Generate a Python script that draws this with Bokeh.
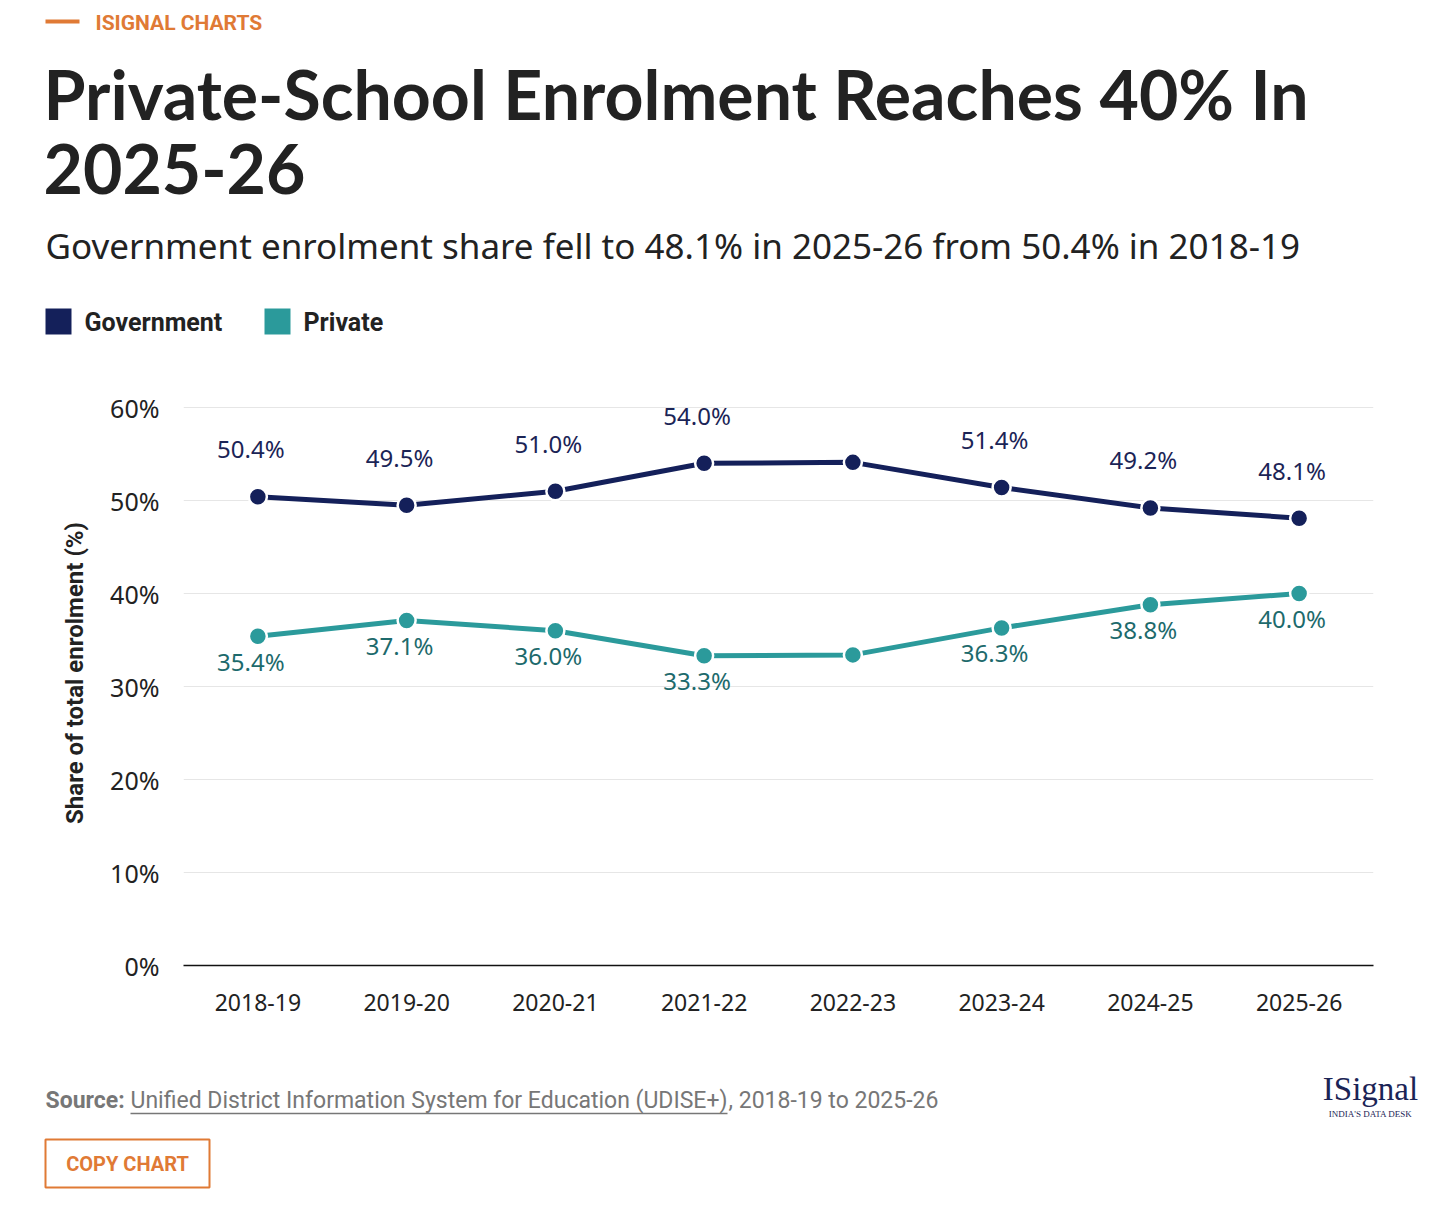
from bokeh.plotting import figure
from bokeh.models import Range1d, FixedTicker, PrintfTickFormatter, ColumnDataSource
from bokeh.core.properties import value
from bokeh.embed import file_html
from bokeh.resources import INLINE

# ---------------- data ----------------
years = ["2018-19", "2019-20", "2020-21", "2021-22", "2022-23", "2023-24", "2024-25", "2025-26"]
government = [50.4, 49.5, 51.0, 54.0, 54.1, 51.4, 49.2, 48.1]
private = [35.4, 37.1, 36.0, 33.3, 33.4, 36.3, 38.8, 40.0]
labelled = [True, True, True, True, False, True, True, True]
y_ticks = [0, 10, 20, 30, 40, 50, 60]

title_lines = ["Private-School Enrolment Reaches 40% In", "2025-26"]
subtitle = "Government enrolment share fell to 48.1% in 2025-26 from 50.4% in 2018-19"
kicker = "ISIGNAL CHARTS"
series_names = ["Government", "Private"]
source_parts = ["Source:", "Unified District Information System for Education (UDISE+)", ", 2018-19 to 2025-26"]

NAVY = "#14205a"
TEAL = "#2b9a9b"
TEAL_TXT = "#1d6a6c"
NAVY_TXT = "#1b2456"
ORANGE = "#e07a35"
INK = "#222222"
GRAY = "#777777"

BODY = "Noto Sans"
COND = "Roboto"
W, H = 1440, 1200
FL, FR, FT, FB = 183, 1373, 380, 965   # frame edges in page pixels

# category slots: each year occupies one unit band, centred at index + 0.5
xpos = [i + 0.5 for i in range(len(years))]
src = ColumnDataSource(dict(
    x=xpos, gov=government, priv=private,
    gov_lbl=[f"{v:.1f}%" if s else "" for v, s in zip(government, labelled)],
    priv_lbl=[f"{v:.1f}%" if s else "" for v, s in zip(private, labelled)],
))

y_top = 60 * (FB - FT) / (FB - 407)
p = figure(width=W, height=H, x_range=Range1d(0, len(years)), y_range=Range1d(0, y_top),
           output_backend="svg", toolbar_location=None,
           min_border_left=FL, min_border_right=W - FR, min_border_top=FT, min_border_bottom=H - FB)
p.extra_x_ranges = {"px": Range1d(FL, FR)}
p.extra_y_ranges = {"px": Range1d(FB, FT)}
p.outline_line_color = None
p.xgrid.visible = False
p.ygrid.grid_line_color = "#e6e6e6"
p.ygrid.grid_line_width = 1.2
p.yaxis.ticker = FixedTicker(ticks=y_ticks)
p.yaxis.formatter = PrintfTickFormatter(format="%d%%")
p.yaxis.axis_line_color = None
p.yaxis.major_tick_line_color = None
p.yaxis.minor_tick_line_color = None
p.yaxis.major_label_standoff = 18
p.yaxis.major_label_text_font_size = "25px"
p.yaxis.axis_label = "Share of total enrolment (%)"
p.yaxis.axis_label_text_font = COND
p.yaxis.axis_label_text_font_style = "bold"
p.yaxis.axis_label_text_font_size = "24px"
p.yaxis.axis_label_text_color = INK
p.yaxis.axis_label_standoff = 18
p.xaxis.ticker = FixedTicker(ticks=xpos)
p.xaxis.major_label_overrides = {x: y for x, y in zip(xpos, years)}
p.xaxis.axis_line_color = "#111111"
p.xaxis.axis_line_width = 1.6
p.xaxis.major_tick_line_color = None
p.xaxis.minor_tick_line_color = None
p.xaxis.major_label_standoff = 22
p.xaxis.major_label_text_font_size = "23px"
for ax in (p.xaxis, p.yaxis):
    ax.major_label_text_font = BODY
    ax.major_label_text_color = INK

p.line("x", "gov", source=src, line_color=NAVY, line_width=5)
p.scatter("x", "gov", source=src, size=18, fill_color=NAVY, line_color="white", line_width=2.5)
p.line("x", "priv", source=src, line_color=TEAL, line_width=5)
p.scatter("x", "priv", source=src, size=18, fill_color=TEAL, line_color="white", line_width=2.5)
p.text("x", "gov", text="gov_lbl", source=src, x_offset=-7, y_offset=-48,
       text_align="center", text_baseline="middle", text_font=value(BODY),
       text_font_size=value("24px"), text_color=NAVY_TXT)
p.text("x", "priv", text="priv_lbl", source=src, x_offset=-7, y_offset=25,
       text_align="center", text_baseline="middle", text_font=value(BODY),
       text_font_size=value("24px"), text_color=TEAL_TXT)

PX = dict(x_range_name="px", y_range_name="px", level="overlay")


def lab(x, y, s, size, color, font=BODY, bold=False, align="left"):
    p.text(x=[x], y=[y], text=[s], text_font=value(font), text_font_size=value(f"{size}px"),
           text_font_style=value("bold" if bold else "normal"), text_color=color,
           text_align=align, text_baseline="middle", **PX)


# header
p.segment(x0=[45], y0=[21], x1=[79], y1=[21], line_color=ORANGE, line_width=4, **PX)
lab(95, 22, kicker, 21, ORANGE, font=COND, bold=True)
lab(43, 93, title_lines[0], 68, INK, font="Lato", bold=True)
lab(43, 168, title_lines[1], 68, INK, font="Lato", bold=True)
lab(45, 245, subtitle, 35, INK)

# legend swatches and names
p.quad(left=[45], right=[71], top=[308], bottom=[334], fill_color=NAVY, line_color=None, **PX)
p.quad(left=[264], right=[290], top=[308], bottom=[334], fill_color=TEAL, line_color=None, **PX)
lab(84, 322, series_names[0], 25, INK, font=COND, bold=True)
lab(303, 322, series_names[1], 25, INK, font=COND, bold=True)

# footer
lab(45, 1100, source_parts[0], 23, GRAY, font=COND, bold=True)
lab(130, 1100, source_parts[1], 23, GRAY, font=COND)
lab(728, 1100, source_parts[2], 23, GRAY, font=COND)
p.segment(x0=[130], y0=[1113], x1=[727], y1=[1113], line_color=GRAY, line_width=1.5, **PX)
lab(1370, 1088, "ISignal", 33, NAVY_TXT, font="Liberation Serif", align="center")
lab(1370, 1113, "INDIA'S DATA DESK", 9, NAVY_TXT, font="Liberation Serif", align="center")
p.quad(left=[45], right=[209], top=[1139], bottom=[1187], fill_color=None, line_color=ORANGE, line_width=2, **PX)
lab(127, 1163, "COPY CHART", 20, ORANGE, font=COND, bold=True, align="center")

open("out.html", "w").write(file_html(p, INLINE))
